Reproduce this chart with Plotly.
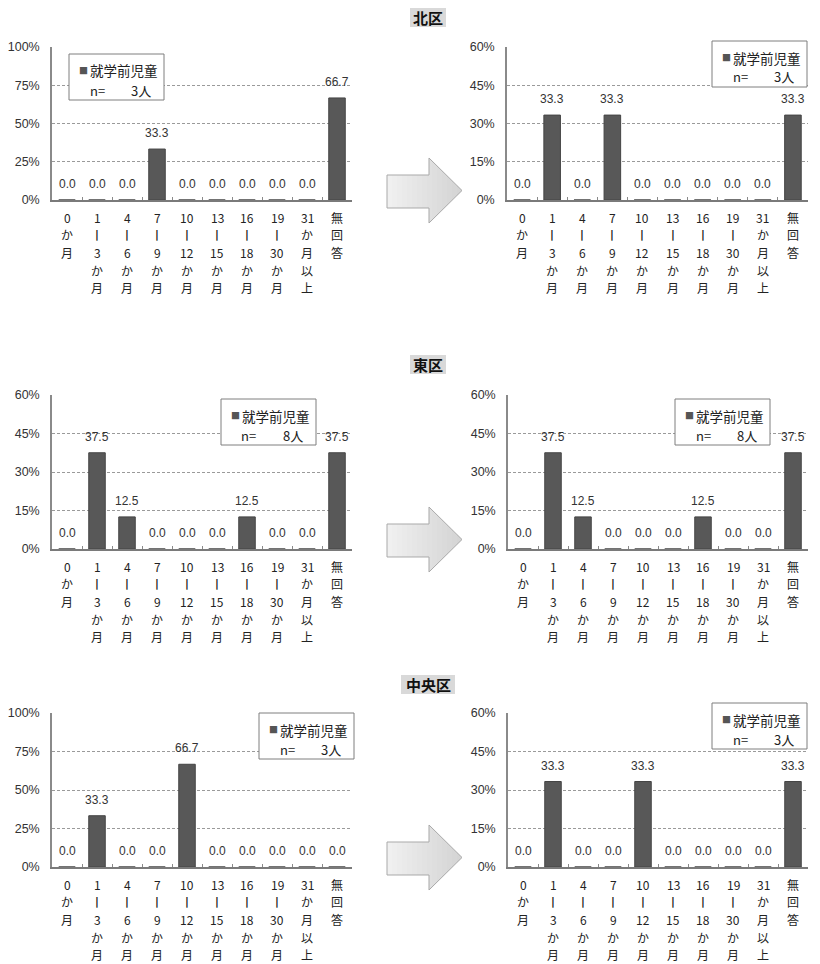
import plotly.graph_objects as go

W, H = 820, 964
OFF = 8  # page body margin of the browser

# ---------------- data ----------------
categories = ["0か月", "1-3か月", "4-6か月", "7-9か月", "10-12か月",
              "13-15か月", "16-18か月", "19-30か月", "31か月以上", "無回答"]
tick_labels = [
    "0<br>か<br>月",
    "1<br>|<br>3<br>か<br>月",
    "4<br>|<br>6<br>か<br>月",
    "7<br>|<br>9<br>か<br>月",
    "10<br>|<br>12<br>か<br>月",
    "13<br>|<br>15<br>か<br>月",
    "16<br>|<br>18<br>か<br>月",
    "19<br>|<br>30<br>か<br>月",
    "31<br>か<br>月<br>以<br>上",
    "無<br>回<br>答",
]
series_name = "就学前児童"
ward_titles = ["北区", "東区", "中央区"]

kita_before = [0.0, 0.0, 0.0, 33.3, 0.0, 0.0, 0.0, 0.0, 0.0, 66.7]
kita_after = [0.0, 33.3, 0.0, 33.3, 0.0, 0.0, 0.0, 0.0, 0.0, 33.3]
higashi_before = [0.0, 37.5, 12.5, 0.0, 0.0, 0.0, 12.5, 0.0, 0.0, 37.5]
higashi_after = [0.0, 37.5, 12.5, 0.0, 0.0, 0.0, 12.5, 0.0, 0.0, 37.5]
chuo_before = [0.0, 33.3, 0.0, 0.0, 66.7, 0.0, 0.0, 0.0, 0.0, 0.0]
chuo_after = [0.0, 33.3, 0.0, 0.0, 33.3, 0.0, 0.0, 0.0, 0.0, 33.3]
n_kita, n_higashi, n_chuo = 3, 8, 3

ticks_100 = [0, 25, 50, 75, 100]
ticks_60 = [0, 15, 30, 45, 60]

# ---------------- layout config (pixels in the target picture) ----------------
panels = [
    dict(vals=kita_before, n=n_kita, ticks=ticks_100, x=(52, 352), y=(47, 200), leg=(69, 54)),
    dict(vals=kita_after, n=n_kita, ticks=ticks_60, x=(507, 808), y=(47, 200), leg=(712, 41)),
    dict(vals=higashi_before, n=n_higashi, ticks=ticks_60, x=(52, 352), y=(395, 549), leg=(221, 399)),
    dict(vals=higashi_after, n=n_higashi, ticks=ticks_60, x=(508, 808), y=(395, 549), leg=(675, 399)),
    dict(vals=chuo_before, n=n_chuo, ticks=ticks_100, x=(52, 352), y=(713, 867), leg=(259, 713)),
    dict(vals=chuo_after, n=n_chuo, ticks=ticks_60, x=(508, 808), y=(713, 867), leg=(712, 703)),
]
title_boxes = [(410, 446, 8, 27), (410, 446, 355, 374), (401, 455, 675, 694)]
arrow_tops = [158, 507, 825]
LABEL_FIRST = 17.0   # px below axis to first label line centre
LABEL_STEP = 17.7    # px between label lines


def px(xp):
    return (xp - OFF) / W


def py(yp):
    return 1 - (yp - OFF) / H


JP = "Noto Sans CJK JP"
NUM = "Liberation Sans"
NARROW = "Liberation Sans Narrow, Liberation Sans, Arial"

fig = go.Figure()
layout = dict(
    template="none",
    width=W, height=H,
    margin=dict(l=0, r=0, t=0, b=0, pad=0, autoexpand=False),
    paper_bgcolor="white", plot_bgcolor="white",
    showlegend=False,
)
shapes = []
annotations = []

for i, p in enumerate(panels, start=1):
    xa = "x" if i == 1 else f"x{i}"
    ya = "y" if i == 1 else f"y{i}"
    fig.add_trace(go.Bar(
        x=categories, y=p["vals"], xaxis=xa, yaxis=ya,
        name=series_name,
        marker=dict(color="#585858", line=dict(color="#444444", width=1)),
        width=0.55,
    ))
    xkey = "xaxis" if i == 1 else f"xaxis{i}"
    ykey = "yaxis" if i == 1 else f"yaxis{i}"
    layout[xkey] = dict(
        domain=[px(p["x"][0]), px(p["x"][1])],
        anchor=ya,
        type="category",
        categoryorder="array", categoryarray=categories,
        showticklabels=False, automargin=False,
        showline=True, linecolor="#7a7a7a", linewidth=2,
        ticks="inside", tickson="boundaries", ticklen=3, tickcolor="#8a8a8a",
        showgrid=False, zeroline=False, fixedrange=True,
    )
    tv = p["ticks"]
    layout[ykey] = dict(
        domain=[py(p["y"][1]), py(p["y"][0])],
        anchor=xa,
        range=[0, tv[-1]],
        tickmode="array", tickvals=tv, ticktext=[f"{t}%" for t in tv],
        tickfont=dict(family=NARROW, size=12.5, color="#333"),
        showline=True, linecolor="#8a8a8a", linewidth=1.5,
        showgrid=True, gridcolor="#9a9a9a", griddash="3px,2px", gridwidth=1,
        zeroline=False, ticks="", ticklabelstandoff=8, fixedrange=True,
        automargin=False,
    )
    # category labels, written vertically one character group per line
    for c, lab in zip(categories, tick_labels):
        for k, part in enumerate(lab.split("<br>")):
            if part == "|":
                fnt = dict(family="DejaVu Sans", size=10.5, color="#1a1a1a", weight="bold")
            else:
                fnt = dict(family=JP, size=12, color="#222")
            annotations.append(dict(
                x=c, xref=xa, y=py(p["y"][1] + LABEL_FIRST + k * LABEL_STEP), yref="paper",
                text=part, showarrow=False, xanchor="center", yanchor="middle",
                borderpad=0, font=fnt,
            ))
    # data labels
    for c, v in zip(categories, p["vals"]):
        annotations.append(dict(
            x=c, y=v, xref=xa, yref=ya, text=f"{v:.1f}", showarrow=False,
            yanchor="bottom", yshift=8, borderpad=0,
            font=dict(family=NUM, size=12, color="#333"),
        ))
    # legend box
    lx, ly = p["leg"]
    shapes.append(dict(
        type="rect", xref="paper", yref="paper",
        x0=px(lx), x1=px(lx + 95), y0=py(ly + 46), y1=py(ly),
        line=dict(color="#7f7f7f", width=1), fillcolor="white", layer="above",
    ))
    annotations.append(dict(
        x=px(lx + 14), y=py(ly + 16.5), xref="paper", yref="paper",
        text="■", showarrow=False, xanchor="center", yanchor="middle", borderpad=0,
        font=dict(family=JP, size=9, color="#555"),
    ))
    annotations.append(dict(
        x=px(lx + 19.5), y=py(ly + 16.5), xref="paper", yref="paper",
        text=series_name, showarrow=False, xanchor="left", yanchor="middle", borderpad=0,
        font=dict(family=JP, size=13.5, color="#222"),
    ))
    annotations.append(dict(
        x=px(lx + 19.5), y=py(ly + 36), xref="paper", yref="paper",
        text="n=", showarrow=False, xanchor="left", yanchor="middle", borderpad=0,
        font=dict(family=JP, size=13, color="#222"),
    ))
    annotations.append(dict(
        x=px(lx + 83), y=py(ly + 36), xref="paper", yref="paper",
        text=f"{p['n']}人", showarrow=False, xanchor="right", yanchor="middle", borderpad=0,
        font=dict(family=JP, size=13, color="#222"),
    ))

# ward titles (grey box + bold text)
for t, (x0, x1, y0, y1) in zip(ward_titles, title_boxes):
    shapes.append(dict(
        type="rect", xref="paper", yref="paper",
        x0=px(x0), x1=px(x1), y0=py(y1), y1=py(y0),
        line=dict(width=0), fillcolor="#d9d9d9", layer="below",
    ))
    annotations.append(dict(
        x=px((x0 + x1) / 2), y=py((y0 + y1) / 2), xref="paper", yref="paper",
        text=f"<b>{t}</b>", showarrow=False, xanchor="center", yanchor="middle",
        borderpad=0, font=dict(family=JP, size=15, color="#111"),
    ))

# arrows: light horizontal gradient built from thin strips, then outline
N_STRIPS = 15
c0, c1 = (240, 240, 240), (212, 212, 212)
for top in arrow_tops:
    xs0, xh, xt = 387.0, 429.0, 462.0

    def upper(x, top=top):
        return top + 17 if x <= xh else top + (x - xh) * 32.5 / (xt - xh)

    def lower(x, top=top):
        return top + 50 if x <= xh else top + 65 - (x - xh) * 32.5 / (xt - xh)

    for s in range(N_STRIPS):
        a = xs0 + (xt - xs0) * s / N_STRIPS
        b = min(xs0 + (xt - xs0) * (s + 1) / N_STRIPS + 0.6, xt)
        f = s / (N_STRIPS - 1)
        col = "rgb({},{},{})".format(*[round(c0[k] + (c1[k] - c0[k]) * f) for k in range(3)])
        if a < xh < b:
            poly = [(a, upper(a)), (xh, top + 17), (xh, top), (b, upper(b)),
                    (b, lower(b)), (xh, top + 65), (xh, top + 50), (a, lower(a))]
        else:
            poly = [(a, upper(a)), (b, upper(b)), (b, lower(b)), (a, lower(a))]
        path = "M " + " L ".join(f"{px(x):.5f},{py(y):.5f}" for x, y in poly) + " Z"
        shapes.append(dict(
            type="path", xref="paper", yref="paper", path=path,
            fillcolor=col, line=dict(width=0), layer="above",
        ))
    pts = [(387, top + 17), (429, top + 17), (429, top), (462, top + 32.5),
           (429, top + 65), (429, top + 50), (387, top + 50)]
    path = "M " + " L ".join(f"{px(a):.5f},{py(b):.5f}" for a, b in pts) + " Z"
    shapes.append(dict(
        type="path", xref="paper", yref="paper", path=path,
        fillcolor="rgba(0,0,0,0)", line=dict(color="#a9a9a9", width=1), layer="above",
    ))

layout["shapes"] = shapes
layout["annotations"] = annotations
fig.update_layout(**layout)

fig.write_html("out.html")
